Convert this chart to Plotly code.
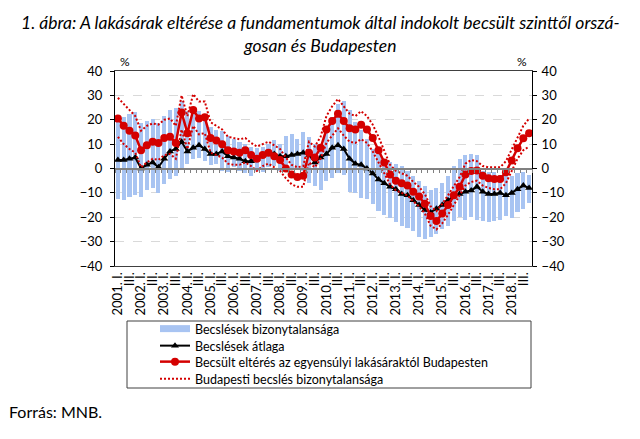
import plotly.graph_objects as go

# quarters 2001 I. - 2018 IV.
YEARS = list(range(2001, 2019))
QUARTERS = ["I.", "II.", "III.", "IV."]

# uncertainty of the national estimates (bar bottom / bar top), %
EST_LOW = [-12.5, -13, -11.5, -11, -11.5, -9, -8, -10, -6.5, -4.5, -3, -0.5,
           2, 4, 4.5, 3, 1.5, 2, -1, -1.5, 0.5, -1, -2, -3,
           -1, -1.5, 0.5, 1, -1, -1, -0.5, 0, -1, -6, -7, -9,
           -5, -4, -2, -2.5, -9.5, -10, -12, -12.5, -14.5, -17.5, -19, -20.5,
           -22, -23.5, -24.5, -25.5, -28, -29, -28, -27, -25, -23.5, -21.5, -20,
           -21, -20, -21, -21.5, -22, -21.5, -21, -19.5, -20.5, -18, -16.5, -14]
EST_HIGH = [20, 21, 22.5, 23, 18.5, 19.5, 20.5, 18.5, 21.5, 24, 25, 27.5,
            23.5, 25, 23.5, 21, 17, 16, 15.5, 13.5, 12, 11, 10, 9,
            8.5, 9, 10, 11.5, 10, 13.5, 14, 12, 15, 13, 10, 7,
            16, 21, 26.5, 27.5, 24, 19, 16, 12, 8, 6, 3.5, 2.5,
            2, 1, -1, -3, -5, -7, -9, -8, -6, -3, 1, 4,
            5.5, 6, 5.5, -1, -1.5, -1.5, -2.5, -3, -3, -2, -1.5, -2.5]

# average of the estimates, %
EST_MEAN = [3.5, 3.5, 4, 4.5, 0, 1.5, 2.5, 0.5, 4, 7, 8, 11,
            7, 8.5, 9.5, 8, 6, 6, 7, 5, 4.5, 4, 3, 3,
            4, 5.5, 6.5, 6, 5, 5, 5.5, 6, 6.5, 5.5, 2.5, 4.5,
            6, 8.5, 9.5, 8, 4, 2, 1.5, 0, -2, -4.5, -6, -7.5,
            -8.5, -10.5, -11, -13, -15, -17, -18, -16.5, -15, -13, -11.5, -10.5,
            -9.5, -9, -7.5, -9.5, -10.5, -10.5, -10, -11, -10, -8.5, -7, -8]

# Budapest: estimated gap and its uncertainty band, %
BP_GAP = [20.5, 17.5, 15.5, 13.5, 7.5, 9.5, 11, 10.5, 12.5, 13, 10.5, 23,
          14.5, 24, 20.5, 21, 12.5, 11.5, 10, 7.5, 7, 6.5, 7.5, 5.5,
          4, 5.5, 6.5, 5, 3.5, 0, -2.5, -3.5, -3, 6.5, 4.5, 8.5,
          16, 19.5, 22.5, 19.5, 16.5, 16, 18, 16, 12.5, 7.5, 2.5, -2.5,
          -5, -6, -7, -9.5, -11.5, -14.5, -19.5, -21.5, -18.5, -15, -11, -7.5,
          -2.5, -1, -0.8, -3, -4, -4.3, -4.3, -1.5, 3.3, 8.3, 12.4, 14.5]
BP_HIGH = [29, 26.5, 24, 21.5, 15.5, 17.5, 18.5, 18, 20, 20.5, 17.5, 30,
           21.5, 30.5, 27.5, 27.5, 19, 17.5, 16, 13, 12.5, 12, 12.5, 10.5,
           9, 10, 11, 9.5, 8, 4.5, 1.5, 0.5, 1, 11, 9, 13,
           21.5, 25.5, 28.5, 25.5, 22.5, 21.5, 23.5, 21.5, 18, 13, 7.5, 1.5,
           -1, -2, -3, -5.5, -7.5, -10.5, -15.5, -17.5, -14.5, -11, -7, -3.5,
           2, 3.5, 3, 1, 0.5, 0.5, 0.5, 3, 8, 13, 17.5, 20.5]
BP_LOW = [13, 10, 8, 6.5, 0.5, 2.5, 4, 3.5, 5.5, 6, 4, 16,
          8, 17.5, 14, 14.5, 6.5, 5.5, 4.5, 2, 1.5, 1.5, 2.5, 1,
          -1, 1, 2, 0.5, -1, -4, -6.5, -7.5, -7.5, 2.5, 0.5, 4,
          10.5, 13.5, 16.5, 13.5, 11, 10.5, 12, 10.5, 7, 2.5, -2, -6.5,
          -9, -10, -11, -13.5, -15.5, -18.5, -23.5, -25, -22.5, -19, -15, -11.5,
          -7, -5.5, -5, -7, -8, -8.5, -8.5, -6, -1, 4, 7.5, 9]

idx = list(range(len(YEARS) * len(QUARTERS)))
tick_vals = [i for i in idx if i % 2 == 0]
tick_text = [f"{YEARS[i // 4]}. {QUARTERS[0]}" if i % 4 == 0 else QUARTERS[2] for i in tick_vals]

FONT = "Lato"
RED = "#d40000"
BLUE = "#a8c4f2"
DOTS = "2px,2px"

# page pixel -> paper coords (plot area is 115..532 x 71..266 on the page)
def px(p):
    return (p - 115) / 417


def py(p):
    return (266 - p) / 195


fig = go.Figure()

fig.add_trace(go.Bar(
    x=idx, y=[h - l for h, l in zip(EST_HIGH, EST_LOW)], base=EST_LOW,
    width=0.7, marker=dict(color=BLUE, line=dict(width=0)),
    showlegend=False,
))
# legend swatch for the bars (wide rectangle as in the original)
fig.add_trace(go.Scatter(
    x=[None], y=[None], mode="lines", line=dict(color=BLUE, width=7),
    name="Becslések bizonytalansága", legend="legend",
))
fig.add_trace(go.Scatter(
    x=idx, y=EST_MEAN, mode="lines+markers",
    line=dict(color="black", width=2),
    marker=dict(symbol="triangle-up", size=7, color="black"),
    name="Becslések átlaga", legend="legend2",
))
fig.add_trace(go.Scatter(
    x=idx, y=BP_GAP, mode="lines+markers",
    line=dict(color=RED, width=2.5),
    marker=dict(symbol="circle", size=8, color=RED),
    name="Becsült eltérés az egyensúlyi lakásáraktól Budapesten", legend="legend3",
))
fig.add_trace(go.Scatter(
    x=idx, y=BP_HIGH, mode="lines", xaxis="x2", yaxis="y2",
    line=dict(color=RED, width=2, dash=DOTS),
    name="Budapesti becslés bizonytalansága", legend="legend4",
))
fig.add_trace(go.Scatter(
    x=idx, y=BP_LOW, mode="lines", xaxis="x2", yaxis="y2",
    line=dict(color=RED, width=2, dash=DOTS),
    showlegend=False,
))

xr = [-0.5, len(idx) - 0.5]
yr = [-40, 40]

legend_rows = [329, 346, 362, 379]
legend_font = dict(family=FONT, size=12.5)
legends = {}
for n, row in enumerate(legend_rows):
    key = "legend" if n == 0 else f"legend{n + 1}"
    legends[key] = dict(
        x=px(155), y=py(row), xanchor="left", yanchor="middle",
        bgcolor="rgba(0,0,0,0)", borderwidth=0, font=legend_font,
    )

fig.update_layout(
    width=640, height=439,
    margin=dict(l=107, r=116, t=63, b=181),
    paper_bgcolor="white", plot_bgcolor="white",
    font=dict(family=FONT, size=12, color="black"),
    bargap=0,
    showlegend=True,
    **legends,
    xaxis=dict(
        range=xr, tickmode="array", tickvals=tick_vals, ticktext=tick_text,
        tickangle=-90, showgrid=False, zeroline=False, ticks="",
        showline=True, mirror=True, linecolor="#404040", linewidth=1,
        tickfont=dict(family=FONT, size=13),
    ),
    xaxis2=dict(
        range=xr, overlaying="x", anchor="free", position=0.5,
        tickmode="array", tickvals=[i - 0.5 for i in idx] + [xr[1]],
        ticks="outside", ticklen=4, tickcolor="#808080", tickwidth=1,
        showticklabels=False, showgrid=False, zeroline=False,
        showline=True, linecolor="#808080", linewidth=1.5,
    ),
    yaxis=dict(
        range=yr, dtick=10, ticks="outside", ticklen=4, tickcolor="black",
        ticklabelstandoff=5,
        showline=True, linecolor="black", linewidth=1,
        showgrid=True, gridcolor="#d9d9d9", griddash="dash", gridwidth=1,
        zeroline=False, tickfont=dict(family=FONT, size=13),
    ),
    yaxis2=dict(
        range=yr, dtick=10, overlaying="y", side="right", anchor="x",
        ticks="outside", ticklen=4, tickcolor="black", ticklabelstandoff=2,
        showline=True, linecolor="black", linewidth=1,
        showgrid=False, zeroline=False, tickfont=dict(family=FONT, size=13),
    ),
    shapes=[dict(
        type="rect", xref="paper", yref="paper",
        x0=px(127), x1=px(531), y0=py(388), y1=py(321),
        line=dict(color="#404040", width=1), fillcolor="rgba(0,0,0,0)",
    )],
    annotations=[
        dict(text="<i>1. ábra: A lakásárak eltérése a fundamentumok által indokolt becsült szinttől orszá-"
                  "<br>gosan és Budapesten</i>",
             xref="paper", yref="paper", x=px(320), y=py(33.5),
             xanchor="center", yanchor="middle", showarrow=False,
             font=dict(family=FONT, size=17.5)),
        dict(text="%", xref="paper", yref="paper", x=px(125), y=1.0,
             xanchor="center", yanchor="bottom", showarrow=False, font=dict(size=12)),
        dict(text="%", xref="paper", yref="paper", x=px(522), y=1.0,
             xanchor="center", yanchor="bottom", showarrow=False, font=dict(size=12)),
        dict(text="Forrás: MNB.", xref="paper", yref="paper",
             x=px(7), y=py(411),
             xanchor="left", yanchor="middle", showarrow=False,
             font=dict(family=FONT, size=16)),
    ],
)

fig.write_html("out.html")
